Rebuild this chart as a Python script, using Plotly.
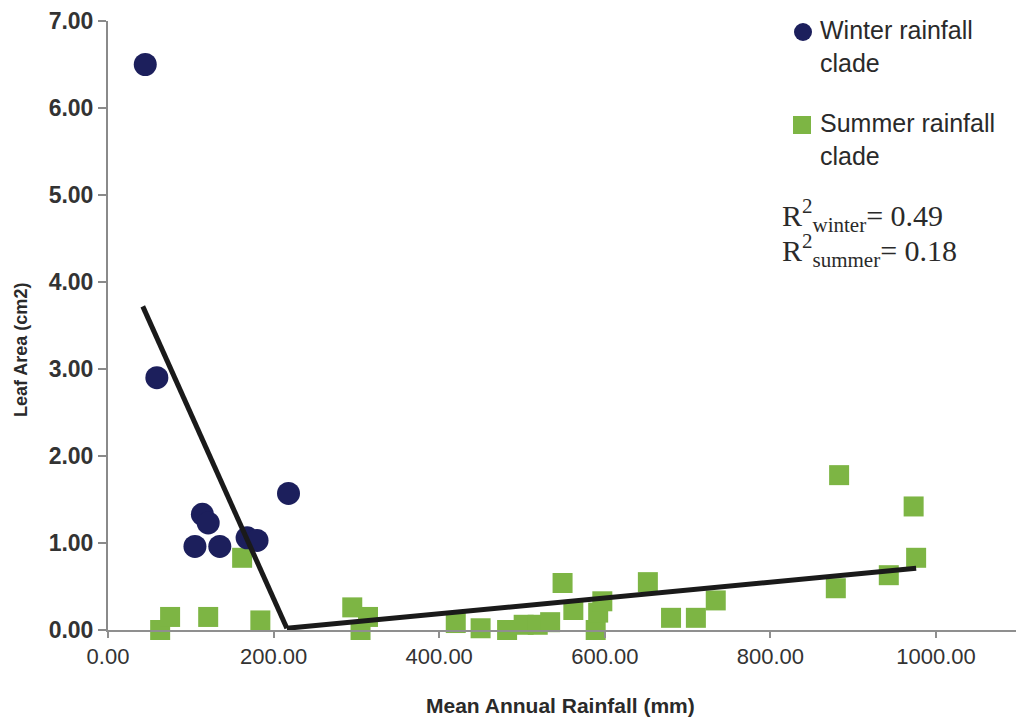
import plotly.graph_objects as go

# Winter rainfall clade
winter_rain = [45, 59, 114, 121, 105, 135, 168, 180, 218]
winter_area = [6.50, 2.90, 1.33, 1.23, 0.96, 0.96, 1.06, 1.03, 1.57]

# Summer rainfall clade
summer_rain = [63, 75, 121, 162, 184, 295, 305, 314, 420, 450, 482, 502, 519,
               534, 549, 562, 589, 592, 597, 652, 680, 710, 734, 879, 883, 943,
               973, 976]
summer_area = [0.00, 0.15, 0.15, 0.83, 0.11, 0.26, 0.00, 0.15, 0.08, 0.02, 0.00,
               0.06, 0.06, 0.09, 0.54, 0.23, 0.00, 0.20, 0.33, 0.55, 0.14, 0.14,
               0.34, 0.48, 1.78, 0.63, 1.42, 0.83]

# Fitted trend lines (end points)
winter_fit_x = [42, 216]
winter_fit_y = [3.72, 0.02]
summer_fit_x = [216, 976]
summer_fit_y = [0.02, 0.71]

x_ticks = [0, 200, 400, 600, 800, 1000]
y_ticks = [0, 1, 2, 3, 4, 5, 6, 7]

r2_winter = 0.49
r2_summer = 0.18

NAVY = "#1c1f5c"
GREEN = "#7db544"
SANS = "Liberation Sans, Arial, sans-serif"
SERIF = "Liberation Serif, Times New Roman, serif"

W, H = 1016, 717
ML, MR, MT, MB = 108, 0, 21, 87
PW, PH = W - ML - MR, H - MT - MB


def px(xp):
    return (xp - ML) / PW


def py(yp):
    return (H - MB - yp) / PH


fig = go.Figure()

fig.add_trace(go.Scatter(
    x=summer_rain, y=summer_area, mode="markers", name="Summer rainfall clade",
    marker=dict(symbol="square", size=20, color=GREEN, line=dict(width=0)),
    cliponaxis=False, showlegend=False))

fig.add_trace(go.Scatter(
    x=winter_rain, y=winter_area, mode="markers", name="Winter rainfall clade",
    marker=dict(symbol="circle", size=23, color=NAVY, line=dict(width=0)),
    cliponaxis=False, showlegend=False))

fig.add_trace(go.Scatter(
    x=winter_fit_x, y=winter_fit_y, mode="lines",
    line=dict(color="#1a1a1a", width=5), cliponaxis=False, showlegend=False))

fig.add_trace(go.Scatter(
    x=summer_fit_x, y=summer_fit_y, mode="lines",
    line=dict(color="#1a1a1a", width=5), cliponaxis=False, showlegend=False))

shapes = [
    dict(type="circle", xref="paper", yref="paper", xsizemode="pixel",
         ysizemode="pixel", xanchor=px(803), yanchor=py(32),
         x0=-9, x1=9, y0=-9, y1=9, fillcolor=NAVY, line=dict(width=0)),
    dict(type="rect", xref="paper", yref="paper", xsizemode="pixel",
         ysizemode="pixel", xanchor=px(802), yanchor=py(125),
         x0=-9, x1=9, y0=-9, y1=9, fillcolor=GREEN, line=dict(width=0)),
]

annotations = [
    dict(text="Winter rainfall<br>clade", xref="paper", yref="paper",
         x=px(818), y=py(47), xanchor="left", yanchor="middle", align="left",
         showarrow=False, font=dict(family=SANS, size=25, color="#2a2a2a")),
    dict(text="Summer rainfall<br>clade", xref="paper", yref="paper",
         x=px(818), y=py(139), xanchor="left", yanchor="middle", align="left",
         showarrow=False, font=dict(family=SANS, size=25, color="#2a2a2a")),
    dict(text=f"R<sup>2</sup><sub>winter</sub>= {r2_winter:.2f}",
         xref="paper", yref="paper", x=px(780), y=py(215),
         xanchor="left", yanchor="middle", showarrow=False,
         font=dict(family=SERIF, size=30, color="#2a2a2a")),
    dict(text=f"R<sup>2</sup><sub>summer</sub>= {r2_summer:.2f}",
         xref="paper", yref="paper", x=px(780), y=py(250),
         xanchor="left", yanchor="middle", showarrow=False,
         font=dict(family=SERIF, size=30, color="#2a2a2a")),
    dict(text="Leaf Area (cm2)", xref="paper", yref="paper",
         x=px(21), y=py(350), xanchor="center", yanchor="middle",
         textangle=-90, showarrow=False,
         font=dict(family=SANS, size=18, color="#2a2a2a", weight="bold")),
    dict(text="Mean Annual Rainfall (mm)", xref="paper", yref="paper",
         x=px(560), y=py(705), xanchor="center", yanchor="middle",
         showarrow=False,
         font=dict(family=SANS, size=21, color="#2a2a2a", weight="bold")),
]

fig.update_layout(
    width=W, height=H,
    margin=dict(l=ML, r=MR, t=MT, b=MB, pad=0),
    paper_bgcolor="white", plot_bgcolor="white",
    shapes=shapes, annotations=annotations,
    xaxis=dict(range=[0, PW / 0.828], tickvals=x_ticks, tickformat=".2f",
               showgrid=False, zeroline=False, showline=True,
               linecolor="#8f8f8f", linewidth=2, ticks="outside", ticklen=6,
               tickwidth=2, tickcolor="#8f8f8f",
               tickfont=dict(family=SANS, size=22, color="#333333")),
    yaxis=dict(range=[0, 7], tickvals=y_ticks, tickformat=".2f",
               showgrid=False, zeroline=False, showline=True,
               linecolor="#8a8a8a", linewidth=2, ticks="outside", ticklen=8,
               tickwidth=2, tickcolor="#8a8a8a",
               tickfont=dict(family=SANS, size=23, color="#333333",
                             weight="bold")),
)

fig.write_html("out.html")
